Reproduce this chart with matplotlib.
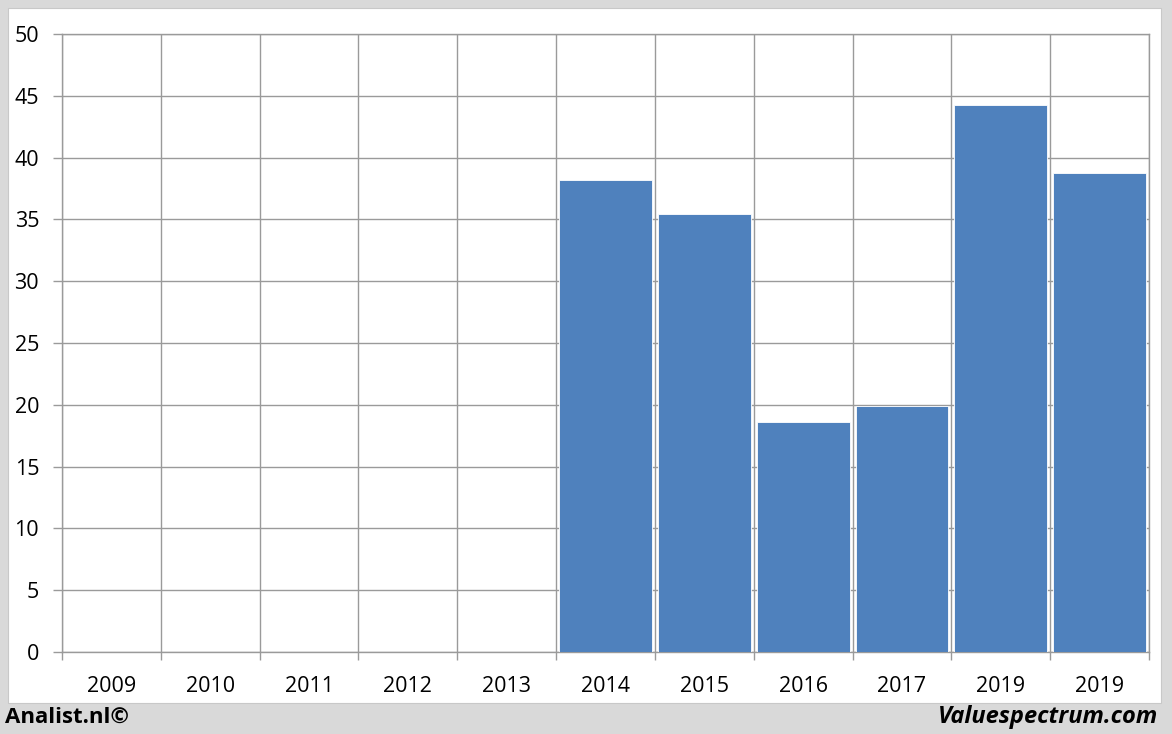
import matplotlib
matplotlib.use('Agg')
import matplotlib.pyplot as plt
from matplotlib.patches import Rectangle
import numpy as np

# Data
years = ['2009', '2010', '2011', '2012', '2013', '2014', '2015',
         '2016', '2017', '2019', '2019']
values = [0, 0, 0, 0, 0, 38.2, 35.4, 18.6, 19.9, 44.25, 38.75]
yticks = [0, 5, 10, 15, 20, 25, 30, 35, 40, 45, 50]

plt.rcParams['font.family'] = ['Open Sans', 'DejaVu Sans']

W, H = 1172, 734
fig = plt.figure(figsize=(W/100, H/100), dpi=100)
fig.patch.set_facecolor('#d9d9d9')
# white chart panel, drawn beneath the axes
fig.patches.append(Rectangle((8/W, (H-703)/H), (1161-8)/W, (703-8)/H,
                             transform=fig.transFigure, facecolor='white',
                             edgecolor='#c8c8c8', lw=0.8, zorder=-10))

ax = fig.add_axes([62/W, (H-652)/H, (1149-62)/W, 618/H])
ax.set_facecolor('none')
gridc = '#9a9a9a'

x = np.arange(len(years))
ax.bar(x, values, width=0.94, color='#4f81bd', edgecolor='white',
       linewidth=0.6, zorder=3)

ax.set_xlim(-0.5, len(years) - 0.5)
ax.set_ylim(0, 50)
ax.set_yticks(yticks)
ax.set_yticklabels([str(v) for v in yticks], fontsize=15.5)
ax.set_xticks(x)
ax.set_xticklabels(years, fontsize=15.5)
ax.set_xticks(np.arange(-0.5, len(years)), minor=True)

ax.tick_params(axis='x', which='major', length=0, pad=17)
ax.tick_params(axis='x', which='minor', length=6, color=gridc, width=1)
ax.tick_params(axis='y', length=6.5, color=gridc, width=1, pad=10)

ax.grid(True, axis='y', which='major', color=gridc, lw=1, zorder=0)
ax.grid(True, axis='x', which='minor', color=gridc, lw=1, zorder=0)
for s in ax.spines.values():
    s.set_color(gridc)
    s.set_linewidth(1)
    s.set_zorder(1)

fig.text(5/W, (H-717)/H, 'Analist.nl©', fontsize=16, fontweight='bold',
         va='center', ha='left')
fig.text(1158/W, (H-717)/H, 'Valuespectrum.com', fontsize=17,
         fontweight='bold', style='italic', va='center', ha='right')

fig.savefig('out.png', dpi=100, facecolor=fig.get_facecolor())
